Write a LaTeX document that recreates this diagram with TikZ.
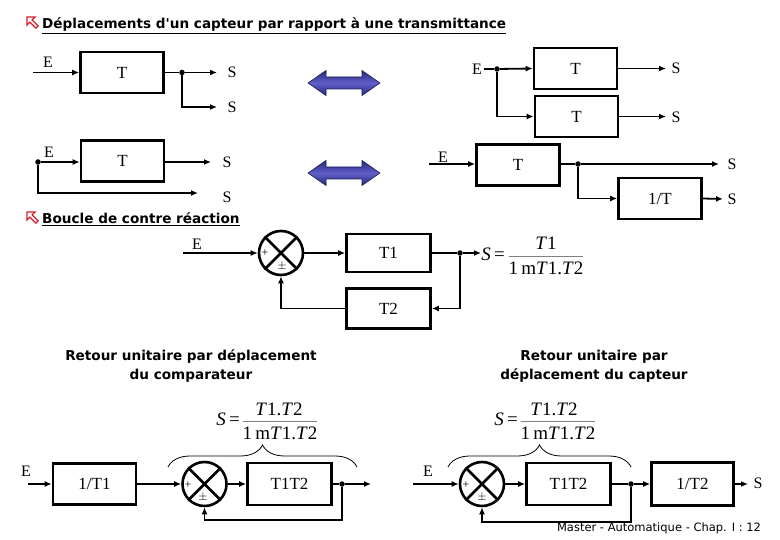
\documentclass[tikz,border=0pt]{standalone}
\usepackage{fontspec}
\setmainfont{Liberation Serif}
\newfontfamily\headfont{DejaVu Sans}
\usetikzlibrary{arrows.meta,decorations.pathreplacing,calc}
\definecolor{navy}{RGB}{40,40,130}
\definecolor{navylight}{RGB}{95,95,200}
\definecolor{iconred}{RGB}{210,30,40}
\tikzset{
  ln/.style={line width=1.8pt},
  arr/.style={ln,-{Latex[length=7pt,width=6pt]}},
  blk/.style={draw,line width=2.6pt,minimum width=83pt,minimum height=41pt,inner sep=0pt,font=\fontsize{17}{17}\selectfont},
  dotn/.style={circle,fill,inner sep=0pt,minimum size=5.5pt},
  lbl/.style={inner sep=0pt,font=\fontsize{16}{16}\selectfont},
  sumn/.style={circle,draw,line width=2.6pt,minimum size=44pt,inner sep=0pt},
  sgn/.style={inner sep=0pt,font=\fontsize{12}{12}\selectfont},
  heading/.style={font=\headfont\bfseries\fontsize{13.6}{19}\selectfont},
  fml/.style={inner sep=0pt,font=\fontsize{19}{19}\selectfont},
  bigarrow/.style={top color=navy,bottom color=navy,middle color=navylight,draw=navy!70!black,line width=0.6pt},
  icon/.style={fill=white,draw=iconred,line width=1.3pt,line join=miter},
  brc/.style={decorate,decoration={brace,amplitude=22pt,aspect=0.5},line width=0.8pt}
}
\begin{document}
\begin{tikzpicture}[x=1pt,y=-1pt]
\useasboundingbox (0,0) rectangle (780,540);

% ---- title ----
\draw[icon] (27,17) -- (35,17) -- (32.1,19.9) -- (38.1,25.9) -- (35.9,28.1) -- (29.9,22.1) -- (27,25) -- cycle;
\node[heading,anchor=base west,inner sep=0pt] (title) at (42,29) {\underline{Déplacements d'un capteur par rapport à une transmittance}};

% ---- diagram 1 ----
\node[lbl] (e1l) at (48,62) {E};
\coordinate (e1) at (33,72.5);
\node[blk] (t1) at (122,72.5) {T};
\node[dotn] (d1) at (182,72.5) {};
\coordinate (s1a) at (217,72.5);
\coordinate (s1b) at (217,107);
\node[lbl] (s1al) at (232,72) {S};
\node[lbl] (s1bl) at (232,107) {S};
\draw[arr] (e1) -- (t1.west);
\draw[ln] (t1.east) -- (d1);
\draw[arr] (d1) -- (s1a);
\draw[arr] (d1) |- (s1b);

% ---- big arrows ----
\draw[bigarrow] (308,83) -- (326,70.5) -- (326,77) -- (362,77) -- (362,70.5) -- (380,83) -- (362,95.5) -- (362,89) -- (326,89) -- (326,95.5) -- cycle;
\draw[bigarrow] (308,173) -- (326,160.5) -- (326,167) -- (362,167) -- (362,160.5) -- (380,173) -- (362,185.5) -- (362,179) -- (326,179) -- (326,185.5) -- cycle;

% ---- diagram 2 ----
\node[lbl] (e2l) at (477,69) {E};
\node[dotn] (d2) at (497,69) {};
\node[blk] (t2a) at (575.5,68.5) {T};
\node[blk] (t2b) at (576.5,116.5) {T};
\coordinate (s2a) at (666,68.5);
\coordinate (s2b) at (666,116.5);
\node[lbl] (s2al) at (676,68) {S};
\node[lbl] (s2bl) at (676,117) {S};
\draw[ln] (e2l.east) ++(2,0) -- (d2);
\draw[arr] (d2) -- (t2a.west);
\draw[arr] (d2) |- (t2b.west);
\draw[arr] (t2a.east) -- (s2a);
\draw[arr] (t2b.east) -- (s2b);

% ---- diagram 3 ----
\node[dotn] (d3) at (38,162) {};
\node[lbl] (e3l) at (49,152) {E};
\node[blk] (t3) at (122.5,161) {T};
\coordinate (s3a) at (211,162);
\coordinate (s3b) at (198,193);
\node[lbl] (s3al) at (227,162) {S};
\node[lbl] (s3bl) at (227,197) {S};
\draw[arr] (d3) -- (d3 -| t3.west);
\draw[arr] (t3.east |- s3a) -- (s3a);
\draw[arr] (d3) |- (s3b);

% ---- diagram 4 ----
\node[lbl] (e4l) at (443,157) {E};
\coordinate (e4) at (429,164);
\node[blk] (t4) at (518,165) {T};
\node[dotn] (d4) at (578,164) {};
\node[blk] (t4b) at (660,198.5) {1/T};
\coordinate (s4a) at (719,164);
\coordinate (s4b) at (723,199);
\node[lbl] (s4al) at (732,164) {S};
\node[lbl] (s4bl) at (732,199) {S};
\draw[arr] (e4) -- (e4 -| t4.west);
\draw[ln] (t4.east |- d4) -- (d4);
\draw[arr] (d4) -- (s4a);
\draw[arr] (d4) |- (t4b.west);
\draw[arr] (t4b.east) -- (s4b);

% ---- feedback loop ----
\draw[icon] (27,212) -- (35,212) -- (32.1,214.9) -- (38.1,220.9) -- (35.9,223.1) -- (29.9,217.1) -- (27,220) -- cycle;
\node[heading,anchor=base west,inner sep=0pt] (sub) at (42,224) {\underline{Boucle de contre réaction}};
\node[lbl] (e5l) at (197,244) {E};
\coordinate (e5) at (183,253);
\node[sumn] (c5) at (281,253) {};
\draw[line width=2.6pt] (c5.north west) -- (c5.south east) (c5.north east) -- (c5.south west);
\node[sgn] (p5) at (265,253) {+};
\node[sgn] (m5) at (282,267) {$\pm$};
\node[blk,minimum width=84pt,minimum height=38pt] (t51) at (388.5,253) {T1};
\node[blk,minimum width=84pt,minimum height=40pt] (t52) at (388.5,308.5) {T2};
\node[dotn] (d5) at (460,253) {};
\coordinate (o5) at (481,253);
\draw[arr] (e5) -- (c5.west);
\draw[arr] (c5.east) -- (t51.west);
\draw[ln] (t51.east) -- (d5);
\draw[arr] (d5) -- (o5);
\draw[arr] (d5) |- (t52.east);
\draw[arr] (t52.west) -| (c5.south);
% formula
\node[fml,anchor=east] (f5s) at (505,254) {\textit{S}\,=};
\node[fml] (f5n) at (546,243) {\textit{T}1};
\node[fml] (f5d) at (546,268) {1\,m\textit{T}1.\textit{T}2};
\draw[gray,line width=0.7pt] (f5d.west |- 0,256) -- (f5d.east |- 0,256);

% ---- headings ----
\node[heading,align=center] (h6) at (191,366) {Retour unitaire par déplacement\\du comparateur};
\node[heading,align=center] (h7) at (594,366) {Retour unitaire par\\déplacement du capteur};

% ---- bottom left ----
\node[lbl] (e6l) at (26,471) {E};
\coordinate (e6) at (28,484);
\node[blk] (b61) at (94.5,484) {1/T1};
\node[sumn] (c6) at (204.5,484) {};
\draw[line width=2.6pt] (c6.north west) -- (c6.south east) (c6.north east) -- (c6.south west);
\node[sgn] (p6) at (188,485) {+};
\node[sgn] (m6) at (203,497) {$\pm$};
\node[blk,minimum width=84pt,minimum height=42pt] (b62) at (289.5,484) {T1T2};
\node[dotn] (d6) at (342,484) {};
\coordinate (o6) at (371,484);
\coordinate (fb6) at (204.5,520);
\draw[arr] (e6) -- (b61.west);
\draw[arr] (b61.east) -- (c6.west);
\draw[arr] (c6.east) -- (b62.west);
\draw[ln] (b62.east) -- (d6);
\draw[arr] (d6) -- (o6);
\draw[arr] (d6) |- (fb6) -- (c6.south);
\coordinate (br6a) at (168,467);
\coordinate (br6b) at (357,467);
\draw[brc] (br6a) -- (br6b);
\node[fml,anchor=east] (f6s) at (240,419) {\textit{S}\,=};
\node[fml] (f6n) at (279,409) {\textit{T}1.\textit{T}2};
\node[fml] (f6d) at (280,433) {1\,m\textit{T}1.\textit{T}2};
\draw[gray,line width=0.7pt] (f6d.west |- 0,421) -- (f6d.east |- 0,421);

% ---- bottom right ----
\node[lbl] (e7l) at (428,471) {E};
\coordinate (e7) at (413,484);
\node[sumn] (c7) at (482,484) {};
\draw[line width=2.6pt] (c7.north west) -- (c7.south east) (c7.north east) -- (c7.south west);
\node[sgn] (p7) at (466,485) {+};
\node[sgn] (m7) at (482,497) {$\pm$};
\node[blk,minimum width=84pt,minimum height=42pt] (b71) at (568.5,484) {T1T2};
\node[dotn] (d7) at (631,484) {};
\node[blk,minimum width=82pt,minimum height=43pt] (b72) at (692.5,484) {1/T2};
\coordinate (s7) at (748,484);
\node[lbl] (s7l) at (758,483) {S};
\coordinate (fb7) at (482,522);
\draw[arr] (e7) -- (c7.west);
\draw[arr] (c7.east) -- (b71.west);
\draw[ln] (b71.east) -- (d7);
\draw[arr] (d7) -- (b72.west);
\draw[arr] (b72.east) -- (s7);
\draw[arr] (d7) |- (fb7) -- (c7.south);
\coordinate (br7a) at (448,467);
\coordinate (br7b) at (631,467);
\draw[brc] (br7a) -- (br7b);
\node[fml,anchor=east] (f7s) at (518,419) {\textit{S}\,=};
\node[fml] (f7n) at (554,409) {\textit{T}1.\textit{T}2};
\node[fml] (f7d) at (558,433) {1\,m\textit{T}1.\textit{T}2};
\draw[gray,line width=0.7pt] (f7d.west |- 0,421) -- (f7d.east |- 0,421);

% ---- footer ----
\node[inner sep=0pt,font=\headfont\fontsize{11.5}{11.5}\selectfont] (foot) at (659,528) {Master - Automatique - Chap. I : 12};
\end{tikzpicture}
\end{document}
